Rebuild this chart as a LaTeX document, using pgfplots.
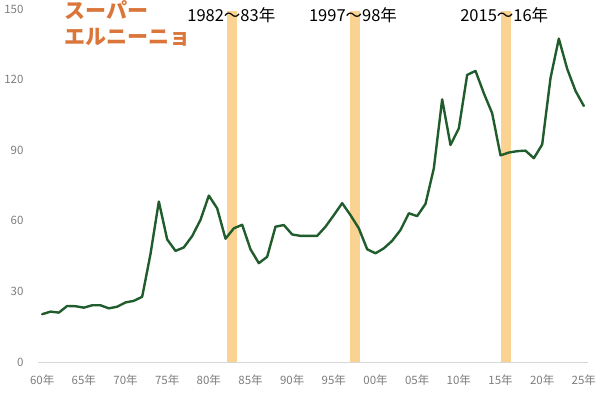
\documentclass[border=0pt]{standalone}
\usepackage{pgfplots}
\pgfplotsset{compat=1.18}
\usepackage{fontspec}
\setmainfont{Noto Sans CJK JP}
\definecolor{bandc}{RGB}{250,210,145}
\definecolor{linec}{RGB}{32,92,44}
\definecolor{titlec}{RGB}{218,118,58}
\definecolor{tickc}{RGB}{125,125,125}
\definecolor{axisc}{RGB}{215,215,215}
\begin{document}
\begin{tikzpicture}
\path[use as bounding box] (0,0) rectangle (600pt,392pt);
\begin{axis}[
  at={(38pt,30pt)}, anchor=south west,
  scale only axis, width=550pt, height=353pt,
  xmin=1959.5, xmax=2025.5, ymin=0, ymax=150,
  clip=false,
  axis lines*=left,
  y axis line style={draw=none},
  x axis line style={draw=axisc, line width=0.8pt},
  ytick={0,30,60,90,120,150},
  ytick style={draw=none},
  yticklabel style={font=\fontsize{11.5}{13}\selectfont, text=tickc, anchor=east, xshift=-11pt},
  /pgf/number format/assume math mode=true,
  xtick={1960,1965,...,2025},
  xticklabels={60年,65年,70年,75年,80年,85年,90年,95年,00年,05年,10年,15年,20年,25年},
  xticklabel style={font=\fontsize{11.5}{13}\selectfont, text=tickc, yshift=-9pt},
  major x tick style={draw=none},
  extra x ticks={1959.5,1964.5,...,2024.5},
  extra x tick labels={},
  extra x tick style={tick align=outside, major tick length=4pt, tick style={draw=axisc, line width=0.8pt}},
]
\addplot[draw=none, fill=bandc] coordinates {(1982.2,0) (1983.4,0) (1983.4,149) (1982.2,149)} -- cycle;
\addplot[draw=none, fill=bandc] coordinates {(1996.9,0) (1998.1,0) (1998.1,149) (1996.9,149)} -- cycle;
\addplot[draw=none, fill=bandc] coordinates {(2015.0,0) (2016.2,0) (2016.2,149) (2015.0,149)} -- cycle;
\addplot[linec, line width=2.4pt, line join=round, line cap=round] table {
1960 20.3
1961 21.4
1962 21.0
1963 23.8
1964 23.7
1965 23.1
1966 24.1
1967 24.1
1968 22.8
1969 23.5
1970 25.3
1971 26.0
1972 27.7
1973 45.9
1974 68.2
1975 52.1
1976 47.2
1977 48.7
1978 53.5
1979 60.4
1980 70.7
1981 65.3
1982 52.4
1983 56.8
1984 58.3
1985 47.9
1986 42.0
1987 44.7
1988 57.5
1989 58.2
1990 54.2
1991 53.6
1992 53.6
1993 53.6
1994 57.5
1995 62.4
1996 67.5
1997 62.4
1998 56.8
1999 47.9
2000 46.2
2001 48.3
2002 51.5
2003 56.1
2004 63.2
2005 62.0
2006 67.2
2007 82.3
2008 111.6
2009 92.2
2010 99.3
2011 122.0
2012 123.7
2013 114.2
2014 105.7
2015 87.8
2016 89.0
2017 89.6
2018 89.8
2019 86.6
2020 92.4
2021 120.6
2022 137.4
2023 124.6
2024 115.2
2025 108.8
};
\node[font=\fontsize{16.5}{19}\selectfont, text=black, inner sep=0pt] at (axis cs:1982.7,147.2) {1982〜83年};
\node[font=\fontsize{16.5}{19}\selectfont, text=black, inner sep=0pt] at (axis cs:1997.3,147.2) {1997〜98年};
\node[font=\fontsize{16.5}{19}\selectfont, text=black, inner sep=0pt] at (axis cs:2015.45,147.2) {2015〜16年};
\node[font=\fontsize{21}{26}\selectfont\bfseries, text=titlec, inner sep=0pt, anchor=north west, align=left] at (axis cs:1962.7,153.5) {スーパー\\エルニーニョ};
\end{axis}
\end{tikzpicture}
\end{document}
